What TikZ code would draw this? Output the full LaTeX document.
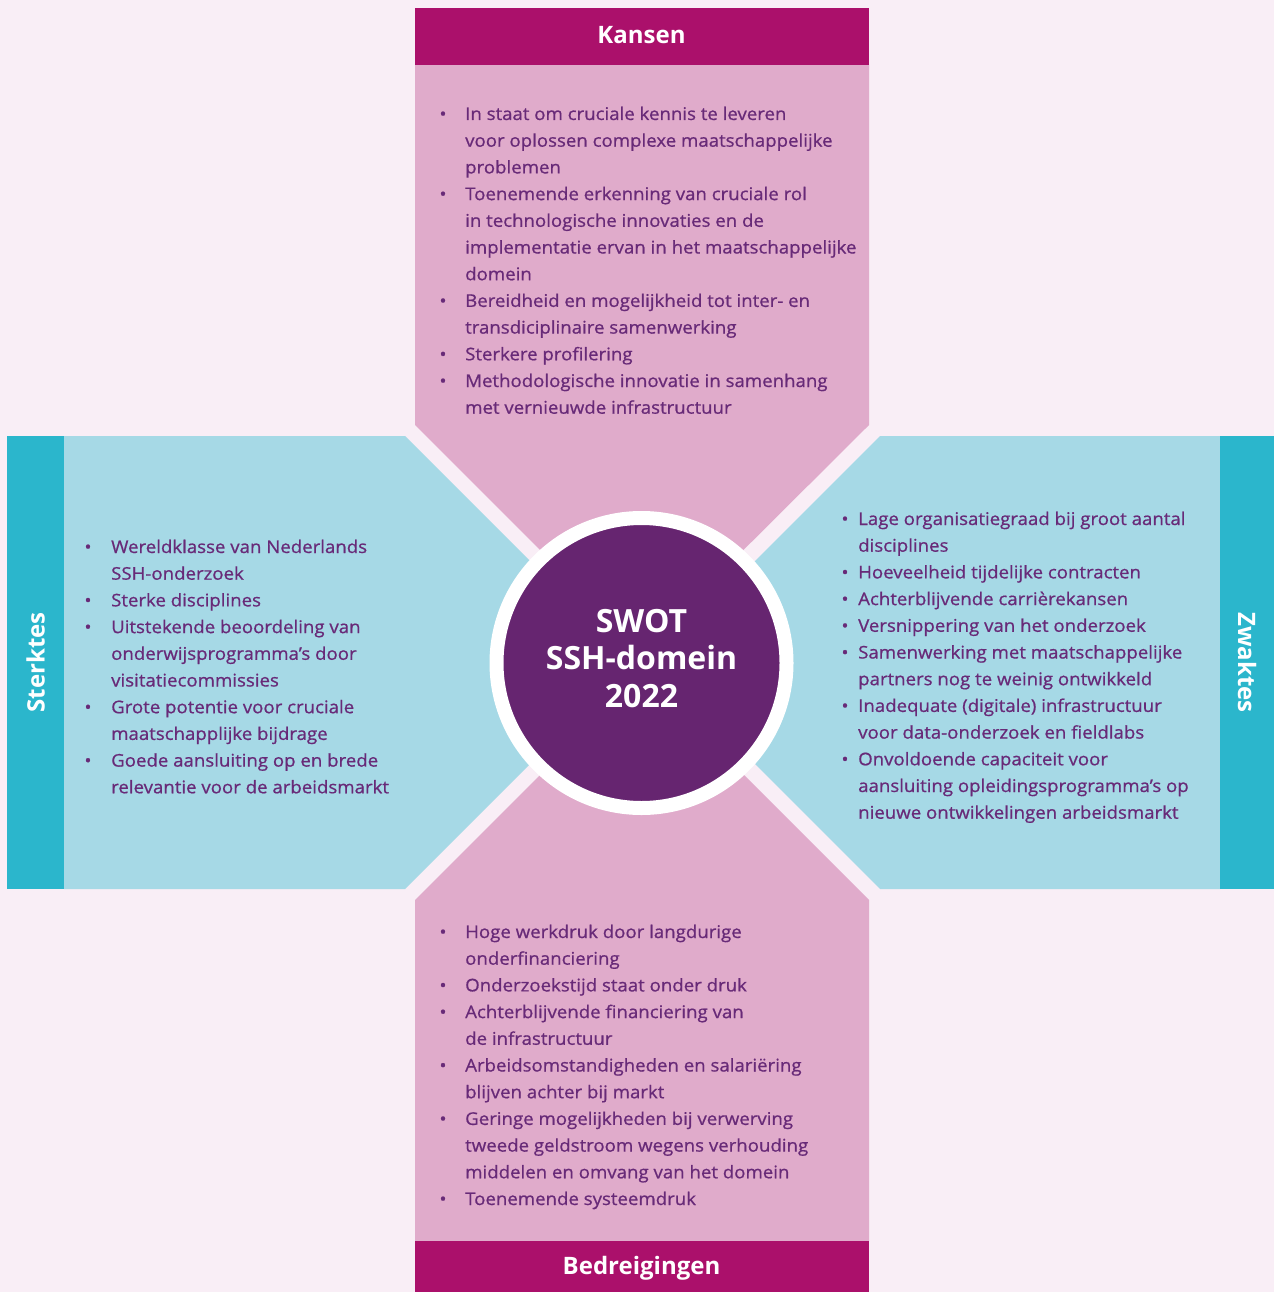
\documentclass[tikz,border=0pt]{standalone}
\usepackage{fontspec}
\setmainfont{Open Sans}
\newfontfamily\bodyf{Open Sans}[FakeStretch=1.065,FakeBold=0.8]
\definecolor{bgc}{HTML}{F9EEF6}
\definecolor{mag}{HTML}{AB106B}
\definecolor{pinkb}{HTML}{E0ABCB}
\definecolor{teal}{HTML}{2BB6CC}
\definecolor{blueb}{HTML}{A6D9E6}
\definecolor{purp}{HTML}{662570}
\definecolor{txtc}{HTML}{682A78}
\newcommand\swotlist[5]{%
  \foreach \b/\t [count=\i from 0] in {#5}{%
    \node[txt] (#1\i) at (#3,#4+\i*26.7) {\t};
    \ifnum\b=1 \node[bul] (#1b\i) at (#2,#4+\i*26.7) {•};\fi
  }}
\begin{document}
\begin{tikzpicture}[x=1pt,y=-1pt,
  txt/.style={anchor=base west,inner sep=0pt,text=txtc,font=\bodyf\fontsize{17.5}{22}\selectfont},
  bul/.style={anchor=base,inner sep=0pt,text=txtc,font=\bodyf\fontsize{17.5}{22}\selectfont},
  head/.style={text=white,inner sep=0pt,font=\bfseries\fontsize{24}{30}\selectfont}]
\useasboundingbox[fill=bgc] (0,0) rectangle (1274,1292);
% top panel
\fill[pinkb] (415,65) -- (869,65) -- (869,425) -- (641.5,651.5) -- (415,425) -- cycle;
\fill[mag] (415,8) rectangle (869,65);
% bottom panel
\fill[pinkb] (415,900) -- (642,673) -- (869,900) -- (869,1241) -- (415,1241) -- cycle;
\fill[mag] (415,1241) rectangle (869,1292);
% left panel
\fill[blueb] (64,436) -- (405,436) -- (631.5,662.5) -- (405,889) -- (64,889) -- cycle;
\fill[teal] (7,436) rectangle (64,889);
% right panel
\fill[blueb] (1220,436) -- (880,436) -- (653.5,662.5) -- (880,889) -- (1220,889) -- cycle;
\fill[teal] (1220,436) rectangle (1274,889);
% headers
\node[head] (hk) at (641.5,35) {Kansen};
\node[head] (hb) at (641.5,1268) {Bedreigingen};
\node[head,rotate=90] (hs) at (35.5,662.5) {Sterktes};
\node[head,rotate=-90] (hz) at (1247,662.5) {Zwaktes};
% centre
\node[circle,fill=purp,draw=white,line width=14pt,minimum size=290pt,inner sep=0pt] (c) at (641.5,663) {};
\node[text=white,align=center,inner sep=0pt,font=\bfseries\fontsize{32}{37.5}\selectfont] (ct) at (641.5,658.5) {SWOT\\SSH-domein\\2022};
% lists
\swotlist{k}{443}{465}{120}{1/{In staat om cruciale kennis te leveren},0/{voor oplossen complexe maatschappelijke},0/{problemen},1/{Toenemende erkenning van cruciale rol},0/{in technologische innovaties en de},0/{implementatie ervan in het maatschappelijke},0/{domein},1/{Bereidheid en mogelijkheid tot inter- en},0/{transdiciplinaire samenwerking},1/{Sterkere profilering},1/{Methodologische innovatie in samenhang},0/{met vernieuwde infrastructuur}}
\swotlist{s}{88}{111}{553}{1/{Wereldklasse van Nederlands},0/{SSH-onderzoek},1/{Sterke disciplines},1/{Uitstekende beoordeling van},0/{onderwijsprogramma’s door},0/{visitatiecommissies},1/{Grote potentie voor cruciale},0/{maatschapplijke bijdrage},1/{Goede aansluiting op en brede},0/{relevantie voor de arbeidsmarkt}}
\swotlist{z}{845}{858}{525}{1/{Lage organisatiegraad bij groot aantal},0/{disciplines},1/{Hoeveelheid tijdelijke contracten},1/{Achterblijvende carrièrekansen},1/{Versnippering van het onderzoek},1/{Samenwerking met maatschappelijke},0/{partners nog te weinig ontwikkeld},1/{Inadequate (digitale) infrastructuur},0/{voor data-onderzoek en fieldlabs},1/{Onvoldoende capaciteit voor},0/{aansluiting opleidingsprogramma’s op},0/{nieuwe ontwikkelingen arbeidsmarkt}}
\swotlist{b}{443}{465}{938}{1/{Hoge werkdruk door langdurige},0/{onderfinanciering},1/{Onderzoekstijd staat onder druk},1/{Achterblijvende financiering van},0/{de infrastructuur},1/{Arbeidsomstandigheden en salariëring},0/{blijven achter bij markt},1/{Geringe mogelijkheden bij verwerving},0/{tweede geldstroom wegens verhouding},0/{middelen en omvang van het domein},1/{Toenemende systeemdruk}}
\end{tikzpicture}
\end{document}
